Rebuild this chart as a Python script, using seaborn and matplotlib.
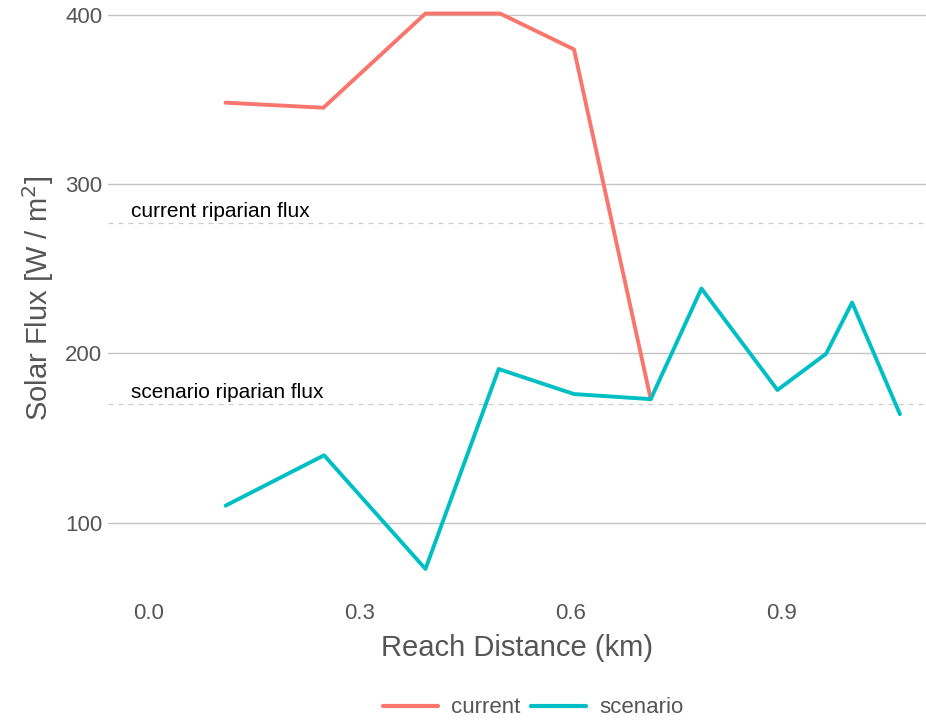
import matplotlib
matplotlib.use("Agg")
import matplotlib.pyplot as plt
import seaborn as sns
import pandas as pd

# ---- data ----
current_x = [0.110, 0.249, 0.394, 0.500, 0.605, 0.714]
current_y = [348.3, 345.3, 401.0, 401.0, 379.8, 173.0]
scenario_x = [0.110, 0.250, 0.394, 0.498, 0.605, 0.714, 0.786, 0.894, 0.963, 1.000, 1.068]
scenario_y = [110.0, 139.8, 72.6, 190.8, 176.0, 173.0, 238.4, 178.4, 199.8, 230.1, 164.1]
series_names = ["current", "scenario"]
riparian_levels = [277.0, 170.0]
riparian_labels = ["current riparian flux", "scenario riparian flux"]
x_ticks = [0.0, 0.3, 0.6, 0.9]
y_ticks = [100, 200, 300, 400]

df = pd.DataFrame({
    "x": current_x + scenario_x,
    "y": current_y + scenario_y,
    "series": [series_names[0]] * len(current_x) + [series_names[1]] * len(scenario_x),
})

sns.set_theme(style="white")
plt.rcParams["font.family"] = ["Liberation Sans", "DejaVu Sans"]

fig = plt.figure(figsize=(9.26, 7.24), dpi=100)
ax = fig.add_axes([0.1166, 0.1754, 0.8834, 0.8246])

palette = {"current": "#F8766D", "scenario": "#00BFC4"}
sns.lineplot(data=df, x="x", y="y", hue="series", palette=palette,
             linewidth=2.8, ax=ax, legend=True, sort=False)

for lvl, lab in zip(riparian_levels, riparian_labels):
    ax.axhline(lvl, color="#cccccc", linestyle=(0, (4, 4)), linewidth=0.9, zorder=1)
    ax.text(-0.024, lvl + 1.5, lab, ha="left", va="bottom", fontsize=15, color="black")

ax.set_xlim(-0.057, 1.105)
ax.set_ylim(56, 409)
ax.set_xticks(x_ticks)
ax.set_xticklabels([f"{v:.1f}" for v in x_ticks])
ax.set_yticks(y_ticks)
ax.yaxis.grid(True, color="#c4c4c4", linewidth=1.0)
ax.xaxis.grid(False)
ax.set_axisbelow(True)
for s in ax.spines.values():
    s.set_visible(False)
ax.tick_params(axis="both", length=0, labelsize=16, colors="#555555", pad=4)

ax.set_xlabel("Reach Distance (km)", fontsize=21, color="#555555")
ax.set_ylabel(r"Solar Flux [W / m$^2$]", fontsize=21, color="#555555")
ax.xaxis.set_label_coords(0.5, (597 - 648) / 597)
ax.xaxis.label.set_va("center")
ax.yaxis.set_label_coords((38 - 108) / 817, 0.5)
ax.yaxis.label.set_va("center")

handles, labels = ax.get_legend_handles_labels()
ax.get_legend().remove()
leg = fig.legend(handles, labels, loc="lower center", bbox_to_anchor=(0.576, -0.02),
                 ncol=2, frameon=False, fontsize=16, handlelength=2.45,
                 columnspacing=0.5, handletextpad=0.6)
for t in leg.get_texts():
    t.set_color("#555555")
for h in leg.get_lines():
    h.set_linewidth(3.0)

fig.savefig("out.png", dpi=100)
